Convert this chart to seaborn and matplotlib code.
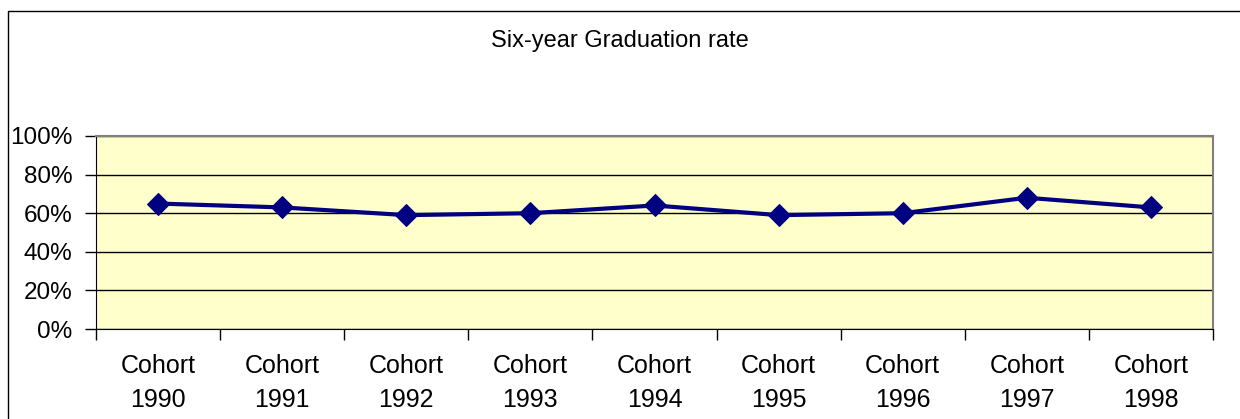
import matplotlib
matplotlib.use("Agg")
import matplotlib.pyplot as plt
import matplotlib.patches as mpatches
from matplotlib.ticker import FixedLocator, PercentFormatter
import seaborn as sns
import pandas as pd

# data
cohorts = ["Cohort\n1990", "Cohort\n1991", "Cohort\n1992", "Cohort\n1993", "Cohort\n1994",
           "Cohort\n1995", "Cohort\n1996", "Cohort\n1997", "Cohort\n1998"]
rates = [65, 63, 59, 60, 64, 59, 60, 68, 63]

df = pd.DataFrame({"Cohort": cohorts, "Rate": rates})

sns.set_style("white")
plt.rcParams["font.family"] = ["Liberation Sans", "DejaVu Sans"]
plt.rcParams["text.color"] = "black"
plt.rcParams["xtick.color"] = "black"
plt.rcParams["ytick.color"] = "black"

fig = plt.figure(figsize=(12.4, 4.19), dpi=100)
ax = fig.add_axes([96 / 1240, 1 - 329 / 419, (1213 - 96) / 1240, (329 - 136) / 419])
ax.set_facecolor("#FFFFCC")

sns.lineplot(data=df, x="Cohort", y="Rate", ax=ax, color="#000080", linewidth=3,
             marker="D", markersize=11, markeredgecolor="#000080", sort=False, zorder=3)

ax.set_xlim(-0.5, len(cohorts) - 0.5)
ax.set_ylim(0, 100)
ax.set_yticks([0, 20, 40, 60, 80, 100])
ax.yaxis.set_major_formatter(PercentFormatter(decimals=0))
ax.grid(axis="y", color="black", linewidth=1)
ax.grid(axis="x", visible=False)
ax.set_axisbelow(True)

ax.set_xticks(range(len(cohorts)))
ax.set_xticklabels(cohorts, fontsize=18, linespacing=1.5)
ax.xaxis.set_minor_locator(FixedLocator([i - 0.5 for i in range(len(cohorts) + 1)]))
ax.tick_params(axis="x", which="major", length=0, pad=18)
ax.tick_params(axis="x", which="minor", length=8, width=1, color="black", direction="out")
ax.tick_params(axis="y", length=8, width=1, color="black", direction="out", labelsize=17.5, pad=9)
ax.tick_params(bottom=True, left=True, which="both")

ax.set_xlabel("")
ax.set_ylabel("")

for side in ["top", "right"]:
    ax.spines[side].set_color("#808080")
    ax.spines[side].set_linewidth(1.5)
ax.spines["left"].set_color("black")
ax.spines["bottom"].set_color("black")

fig.text(0.5, 1 - 41 / 419, "Six-year Graduation rate", ha="center", va="center", fontsize=17)

# outer chart frame
frame = mpatches.Rectangle((8 / 1240, -0.1), 1.2, 1 - 11 / 419 + 0.1, transform=fig.transFigure,
                           fill=False, edgecolor="black", linewidth=1)
fig.patches.append(frame)

fig.savefig("out.png", dpi=100)
